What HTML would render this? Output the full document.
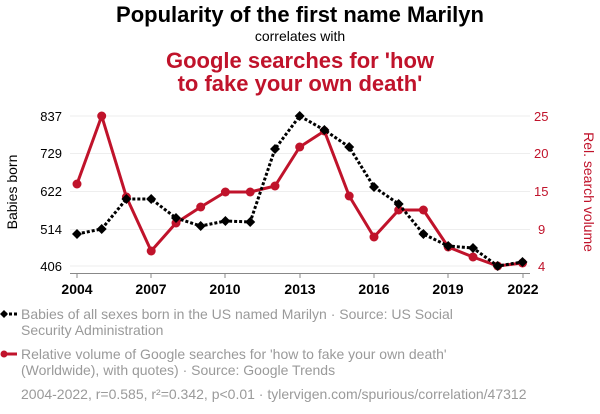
<!DOCTYPE html>
<html><head><meta charset="utf-8"><style>
body{margin:0;background:#fff;width:600px;height:414px;overflow:hidden}
svg{display:block;font-family:"Liberation Sans",sans-serif}
</style></head><body>
<svg width="600" height="414" xmlns="http://www.w3.org/2000/svg">
<text x="300" y="22" text-anchor="middle" font-size="22" font-weight="bold" fill="#000">Popularity of the first name Marilyn</text>
<text x="300" y="41" text-anchor="middle" font-size="14" fill="#000">correlates with</text>
<text x="300" y="68" text-anchor="middle" font-size="22" font-weight="bold" fill="#c0132b">Google searches for 'how</text>
<text x="300" y="91" text-anchor="middle" font-size="22" font-weight="bold" fill="#c0132b">to fake your own death'</text>
<g stroke="#eee" stroke-width="1">
<line x1="70" x2="530" y1="116" y2="116"/><line x1="70" x2="530" y1="153.5" y2="153.5"/><line x1="70" x2="530" y1="191.5" y2="191.5"/><line x1="70" x2="530" y1="229.5" y2="229.5"/><line x1="70" x2="530" y1="266" y2="266"/>
</g>
<line x1="70" x2="530" y1="273.5" y2="273.5" stroke="#888"/>
<g stroke="#888"><line x1="77" x2="77" y1="273" y2="278"/><line x1="151" x2="151" y1="273" y2="278"/><line x1="225" x2="225" y1="273" y2="278"/><line x1="300" x2="300" y1="273" y2="278"/><line x1="374" x2="374" y1="273" y2="278"/><line x1="448" x2="448" y1="273" y2="278"/><line x1="523" x2="523" y1="273" y2="278"/></g>
<g font-size="14" font-weight="bold" text-anchor="middle" fill="#000">
<text x="77" y="294">2004</text><text x="151" y="294">2007</text><text x="225" y="294">2010</text><text x="300" y="294">2013</text><text x="374" y="294">2016</text><text x="448" y="294">2019</text><text x="523" y="294">2022</text>
</g>
<g font-size="13" text-anchor="end" fill="#000">
<text x="62" y="121">837</text><text x="62" y="158">729</text><text x="62" y="196">622</text><text x="62" y="234">514</text><text x="62" y="271">406</text>
</g>
<g font-size="13" fill="#c0132b">
<text x="534" y="121">25</text><text x="534" y="158">20</text><text x="534" y="196">15</text><text x="538" y="234">9</text><text x="538" y="271">4</text>
</g>
<text transform="translate(17,192) rotate(-90)" text-anchor="middle" font-size="14" fill="#000">Babies born</text>
<text transform="translate(584,192) rotate(90)" text-anchor="middle" font-size="14" fill="#c0132b">Rel. search volume</text>
<polyline fill="none" stroke="#c0132b" stroke-width="3" stroke-linejoin="round" points="77,184 101.7,116 126.4,197 151.2,251 176,223 200.7,207 225.4,192 250.2,192 275,186 299.7,147 324.4,131 349.2,196 374,237 398.7,210 423.4,210 448.2,247 473,257 497.7,266 522.5,263"/>
<g fill="#c0132b">
<circle cx="77" cy="184" r="4.5"/><circle cx="101.7" cy="116" r="4.5"/><circle cx="126.4" cy="197" r="4.5"/><circle cx="151.2" cy="251" r="4.5"/><circle cx="176" cy="223" r="4.5"/><circle cx="200.7" cy="207" r="4.5"/><circle cx="225.4" cy="192" r="4.5"/><circle cx="250.2" cy="192" r="4.5"/><circle cx="275" cy="186" r="4.5"/><circle cx="299.7" cy="147" r="4.5"/><circle cx="324.4" cy="131" r="4.5"/><circle cx="349.2" cy="196" r="4.5"/><circle cx="374" cy="237" r="4.5"/><circle cx="398.7" cy="210" r="4.5"/><circle cx="423.4" cy="210" r="4.5"/><circle cx="448.2" cy="247" r="4.5"/><circle cx="473" cy="257" r="4.5"/><circle cx="497.7" cy="266" r="4.5"/><circle cx="522.5" cy="263" r="4.5"/>
</g>
<polyline fill="none" stroke="#000" stroke-width="3" stroke-dasharray="3,2" points="77,234 101.7,229 126.4,199 151.2,199 176,218 200.7,226 225.4,221 250.2,222 275,149 299.7,116 324.4,130 349.2,147 374,187 398.7,204 423.4,234 448.2,246 473,248 497.7,266 522.5,262"/>
<g fill="#000">
<path d="M77,229l5,5l-5,5l-5,-5z"/><path d="M101.7,224l5,5l-5,5l-5,-5z"/><path d="M126.4,194l5,5l-5,5l-5,-5z"/><path d="M151.2,194l5,5l-5,5l-5,-5z"/><path d="M176,213l5,5l-5,5l-5,-5z"/><path d="M200.7,221l5,5l-5,5l-5,-5z"/><path d="M225.4,216l5,5l-5,5l-5,-5z"/><path d="M250.2,217l5,5l-5,5l-5,-5z"/><path d="M275,144l5,5l-5,5l-5,-5z"/><path d="M299.7,111l5,5l-5,5l-5,-5z"/><path d="M324.4,125l5,5l-5,5l-5,-5z"/><path d="M349.2,142l5,5l-5,5l-5,-5z"/><path d="M374,182l5,5l-5,5l-5,-5z"/><path d="M398.7,199l5,5l-5,5l-5,-5z"/><path d="M423.4,229l5,5l-5,5l-5,-5z"/><path d="M448.2,241l5,5l-5,5l-5,-5z"/><path d="M473,243l5,5l-5,5l-5,-5z"/><path d="M497.7,261l5,5l-5,5l-5,-5z"/><path d="M522.5,257l5,5l-5,5l-5,-5z"/>
</g>
<line x1="4" x2="17" y1="314" y2="314" stroke="#000" stroke-width="3" stroke-dasharray="3,2"/>
<path d="M4,310l4,4l-4,4l-4,-4z" fill="#000"/>
<line x1="4" x2="17" y1="354" y2="354" stroke="#c0132b" stroke-width="3"/>
<circle cx="4" cy="354" r="3.5" fill="#c0132b"/>
<g font-size="14" fill="#9a9a9a">
<text x="21" y="319">Babies of all sexes born in the US named Marilyn · Source: US Social</text>
<text x="21" y="335">Security Administration</text>
<text x="21" y="359">Relative volume of Google searches for 'how to fake your own death'</text>
<text x="21" y="375">(Worldwide), with quotes) · Source: Google Trends</text>
<text x="21" y="399">2004-2022, r=0.585, r²=0.342, p&lt;0.01 · tylervigen.com/spurious/correlation/47312</text>
</g>
</svg>
</body></html>
